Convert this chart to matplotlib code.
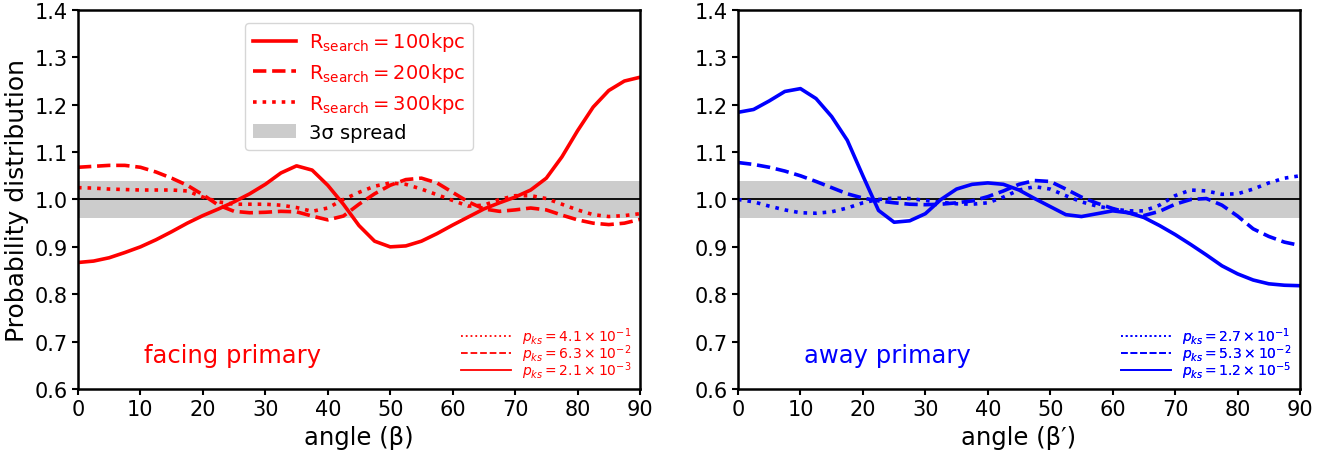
import matplotlib
matplotlib.use('Agg')
import matplotlib.pyplot as plt
from matplotlib.lines import Line2D
import numpy as np

angle = np.arange(0, 90.1, 2.5)

# facing primary (left panel)
face_100 = [0.867, 0.870, 0.877, 0.888, 0.900, 0.915, 0.932, 0.950, 0.966, 0.980,
            0.995, 1.012, 1.032, 1.056, 1.071, 1.062, 1.030, 0.990, 0.945, 0.912,
            0.900, 0.902, 0.912, 0.928, 0.946, 0.963, 0.980, 0.993, 1.005, 1.020,
            1.045, 1.090, 1.145, 1.195, 1.230, 1.250, 1.258]
face_200 = [1.068, 1.070, 1.072, 1.072, 1.068, 1.058, 1.045, 1.030, 1.010, 0.988,
            0.975, 0.972, 0.973, 0.975, 0.974, 0.965, 0.957, 0.965, 0.990, 1.012,
            1.030, 1.042, 1.045, 1.035, 1.015, 0.995, 0.980, 0.975, 0.978, 0.982,
            0.978, 0.967, 0.957, 0.950, 0.947, 0.950, 0.958]
face_300 = [1.025, 1.024, 1.022, 1.021, 1.020, 1.020, 1.020, 1.018, 1.005, 0.995,
            0.990, 0.990, 0.990, 0.988, 0.983, 0.975, 0.982, 1.000, 1.015, 1.028,
            1.035, 1.032, 1.022, 1.010, 0.998, 0.986, 0.988, 1.000, 1.008, 1.008,
            1.002, 0.990, 0.978, 0.968, 0.964, 0.966, 0.970]

# away primary (right panel)
away_100 = [1.184, 1.190, 1.208, 1.228, 1.234, 1.213, 1.175, 1.125, 1.050, 0.977,
            0.952, 0.955, 0.970, 1.000, 1.022, 1.032, 1.035, 1.032, 1.020, 1.002,
            0.985, 0.968, 0.964, 0.970, 0.976, 0.972, 0.962, 0.945, 0.926, 0.905,
            0.883, 0.860, 0.843, 0.830, 0.822, 0.819, 0.818]
away_200 = [1.078, 1.074, 1.068, 1.060, 1.050, 1.038, 1.025, 1.012, 1.003, 0.997,
            0.993, 0.990, 0.989, 0.990, 0.993, 0.997, 1.006, 1.018, 1.032, 1.040,
            1.038, 1.022, 1.005, 0.992, 0.981, 0.972, 0.966, 0.975, 0.990, 1.000,
            1.002, 0.988, 0.965, 0.938, 0.922, 0.910, 0.903]
away_300 = [1.000, 0.995, 0.986, 0.978, 0.972, 0.971, 0.974, 0.982, 0.993, 1.000,
            1.003, 1.002, 0.998, 0.994, 0.991, 0.990, 0.993, 1.005, 1.020, 1.027,
            1.022, 1.008, 0.995, 0.986, 0.980, 0.976, 0.976, 0.988, 1.008, 1.020,
            1.018, 1.011, 1.012, 1.022, 1.035, 1.045, 1.050]

spread = 0.04
radii = ['100', '200', '300']
pks_face = [r'$p_{ks}=4.1\times10^{-1}$', r'$p_{ks}=6.3\times10^{-2}$', r'$p_{ks}=2.1\times10^{-3}$']
pks_away = [r'$p_{ks}=2.7\times10^{-1}$', r'$p_{ks}=5.3\times10^{-2}$', r'$p_{ks}=1.2\times10^{-5}$']

fig, axes = plt.subplots(1, 2, figsize=(13.26, 4.52), dpi=100)
fig.subplots_adjust(left=0.0588, right=0.9804, bottom=0.1372, top=0.9757, wspace=0.1744)

panels = [(axes[0], 'red', [face_100, face_200, face_300], pks_face, 'facing primary', 'angle (β)'),
          (axes[1], 'blue', [away_100, away_200, away_300], pks_away, 'away primary', 'angle (β′)')]
styles = ['-', '--', ':']

for ax, col, series, pks, name, xlab in panels:
    band = ax.axhspan(1 - spread, 1 + spread, color='0.8', lw=0, zorder=0)
    ax.axhline(1.0, color='k', lw=1.3, zorder=1)
    lines = []
    for s, ls, r in zip(series, styles, radii):
        l, = ax.plot(angle, s, ls, color=col, lw=2.6,
                     label=r'$\mathrm{R_{search}=%skpc}$' % r)
        lines.append(l)
    ax.set_xlim(0, 90)
    ax.set_ylim(0.6, 1.4)
    ax.set_xticks(np.arange(0, 91, 10))
    ax.set_yticks(np.arange(0.6, 1.41, 0.1))
    ax.tick_params(labelsize=15, width=1.5, length=4)
    for sp in ax.spines.values():
        sp.set_linewidth(1.8)
    ax.set_xlabel(xlab, fontsize=17.5)
    ax.text(10.5, 0.672, name, color=col, fontsize=17.5, va='center')

    proxies = [Line2D([], [], color=col, ls=ls, lw=1.3) for ls in [':', '--', '-']]
    leg2 = ax.legend(proxies, pks, loc='lower right', fontsize=10, frameon=False,
                     handlelength=3.6, labelspacing=-0.35, borderaxespad=0.2,
                     labelcolor=col)
    ax.add_artist(leg2)

    if ax is axes[0]:
        leg = ax.legend(lines + [band], [l.get_label() for l in lines] + ['3σ spread'],
                        loc='upper center', fontsize=14, labelspacing=0.4,
                        handlelength=2.2, handletextpad=0.65, borderaxespad=0.65)
        for t in leg.get_texts()[:3]:
            t.set_color(col)

axes[0].set_ylabel('Probability distribution', fontsize=18)

plt.savefig('out.png', dpi=100)
